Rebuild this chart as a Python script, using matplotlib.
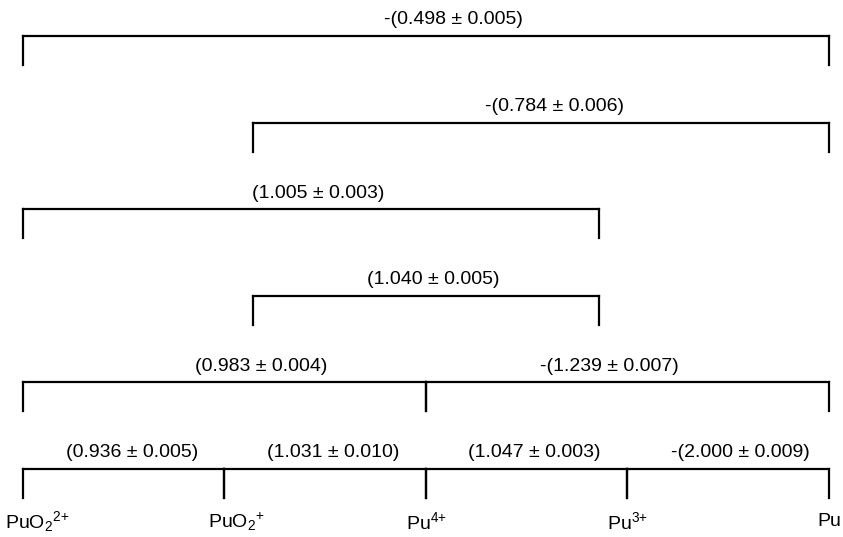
import matplotlib
matplotlib.use("Agg")
import matplotlib.pyplot as plt

plt.rcParams['font.family'] = ['Liberation Sans', 'DejaVu Sans']
plt.rcParams['mathtext.fontset'] = 'custom'
plt.rcParams['mathtext.rm'] = 'Liberation Sans'
plt.rcParams['mathtext.it'] = 'Liberation Sans'

species = ["PuO$_2$$^{2{+}}$", "PuO$_2$$^{{+}}$", "Pu$^{4{+}}$", "Pu$^{3{+}}$", "Pu"]
bracket_from = [0, 1, 0, 1, 0, 2, 0, 1, 2, 3]
bracket_to = [4, 4, 3, 3, 2, 4, 1, 2, 3, 4]
bracket_row = [0, 1, 2, 3, 4, 4, 5, 5, 5, 5]
potentials = ["-(0.498 ± 0.005)", "-(0.784 ± 0.006)", "(1.005 ± 0.003)",
              "(1.040 ± 0.005)", "(0.983 ± 0.004)", "-(1.239 ± 0.007)",
              "(0.936 ± 0.005)", "(1.031 ± 0.010)", "(1.047 ± 0.003)",
              "-(2.000 ± 0.009)"]

# layout
px_per_x = 201.5
px_per_row = 86.6
row_inset = {0: 0.0, 1: 29 / px_per_x, 2: 29 / px_per_x, 3: 29 / px_per_x, 4: 0.0, 5: 0.0}
label_dx_px = [14, 12, 0, 0, 0]
pot_dx_px = [27, 13, 7, 7, 37, -18, 8, 8, 8, 12]

fig = plt.figure(figsize=(8.43, 5.37), dpi=100)
ax = fig.add_axes([0, 0, 1, 1])
ax.set_xlim(-23 / px_per_x, 4 + 14 / px_per_x)
ax.set_ylim((537 - 36) / px_per_row, -36 / px_per_row)
ax.axis('off')

tick = 29 / px_per_row
lw = 1.6
n = len(species)
for a, b, r, lab, dx in zip(bracket_from, bracket_to, bracket_row, potentials, pot_dx_px):
    xa = a + (row_inset[r] if 0 < a < n - 1 else 0)
    xb = b - (row_inset[r] if 0 < b < n - 1 else 0)
    ax.plot([xa, xb], [r, r], color='black', lw=lw, solid_capstyle='projecting')
    ax.plot([xa, xa], [r, r + tick], color='black', lw=lw)
    ax.plot([xb, xb], [r, r + tick], color='black', lw=lw)
    ax.text((xa + xb) / 2 + dx / px_per_x, r - 0.185, lab,
            ha='center', va='center', fontsize=14)

for i, s in enumerate(species):
    ax.text(i + label_dx_px[i] / px_per_x, 5.61, s, ha='center', va='center', fontsize=14)

fig.savefig("out.png", dpi=100)
